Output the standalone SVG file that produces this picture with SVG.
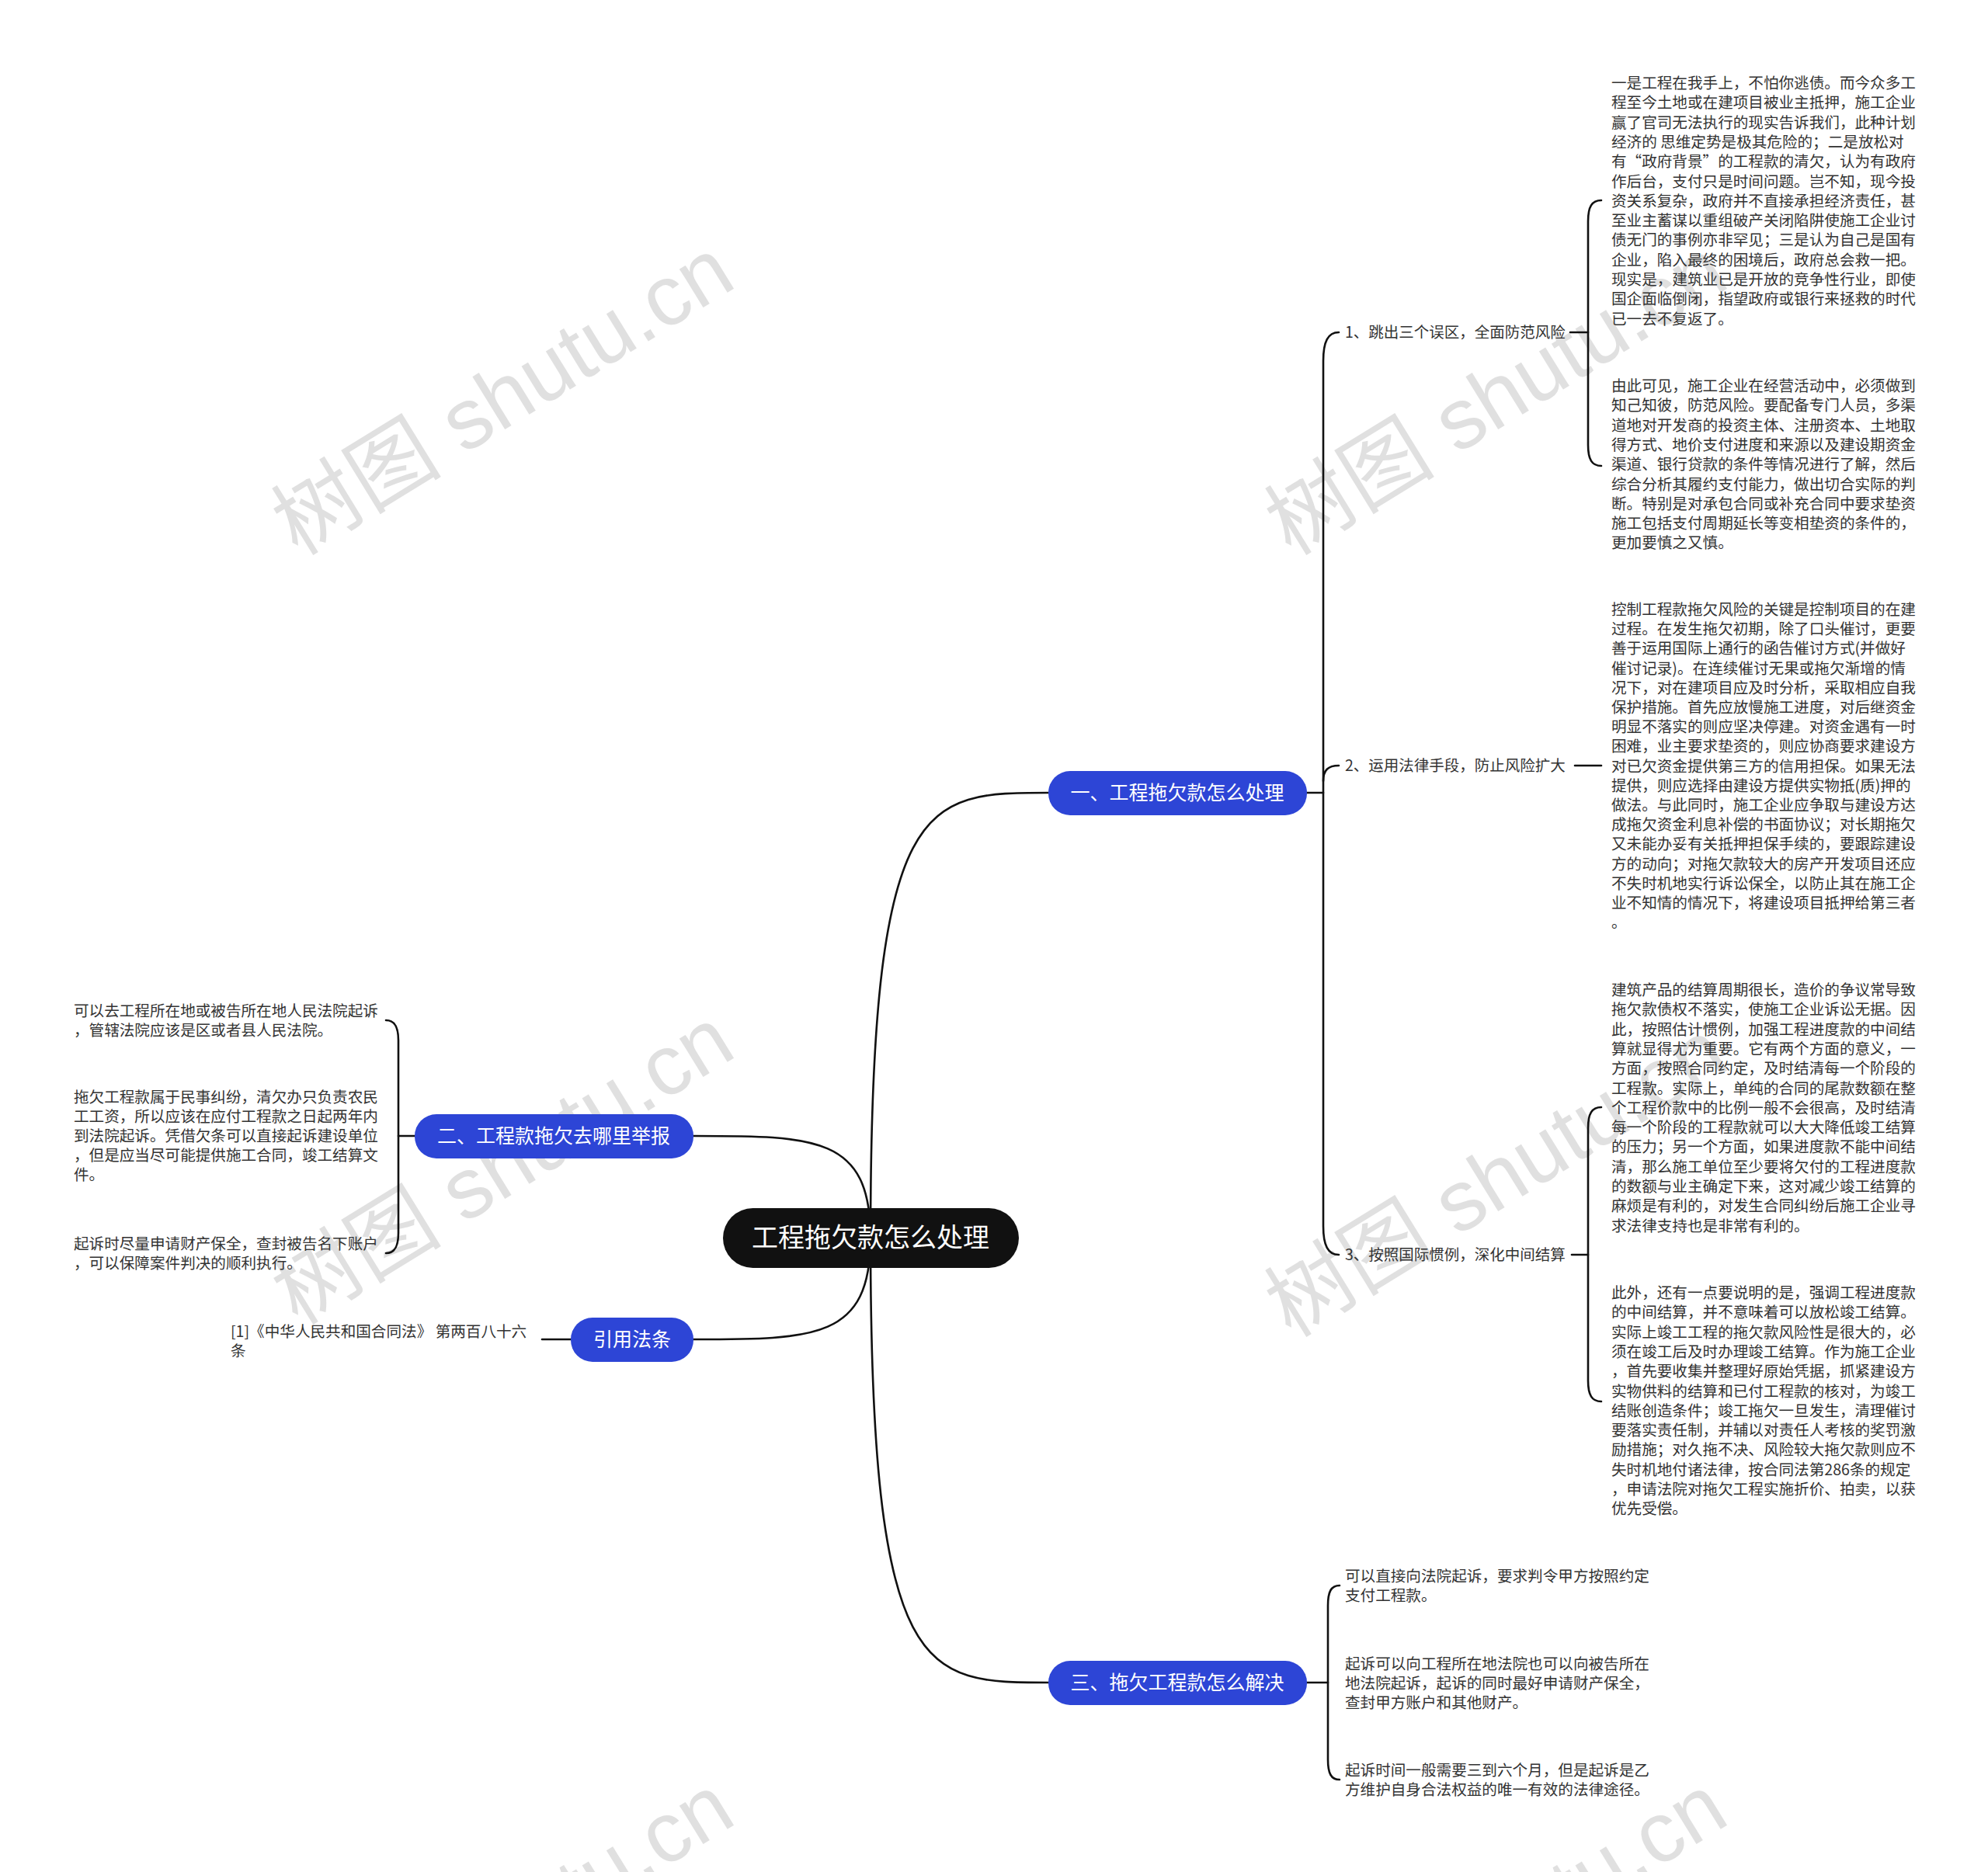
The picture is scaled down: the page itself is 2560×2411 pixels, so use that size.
<svg xmlns="http://www.w3.org/2000/svg" width="2560" height="2411" viewBox="0 0 2560 2411">
<style>
.wm{font-family:"Liberation Sans","Noto Sans CJK SC",sans-serif;font-size:110px;fill:#c8c8c8;opacity:0.55}
.t{font-family:"Noto Sans CJK SC",sans-serif;font-size:19.6px;fill:#333333}
.lb{font-family:"Noto Sans CJK SC",sans-serif;font-size:19.5px;fill:#333333}
.n1{fill:#2d45d6}
.n1t{font-family:"Noto Sans CJK SC",sans-serif;font-size:25px;fill:#ffffff;text-anchor:middle}
.rt{font-family:"Noto Sans CJK SC",sans-serif;font-size:34px;fill:#ffffff;text-anchor:middle}
.c{fill:none;stroke:#111111;stroke-width:2.6;stroke-linecap:round}
</style>
<rect width="2560" height="2411" fill="#ffffff"/>
<g id="watermarks">
<text class="wm" x="648" y="548" text-anchor="middle" transform="rotate(-31.6 648 511)">树图 shutu.cn</text>
<text class="wm" x="1927" y="548" text-anchor="middle" transform="rotate(-31.6 1927 511)">树图 shutu.cn</text>
<text class="wm" x="648" y="1539" text-anchor="middle" transform="rotate(-31.6 648 1502)">树图 shutu.cn</text>
<text class="wm" x="1927" y="1555" text-anchor="middle" transform="rotate(-31.6 1927 1518)">树图 shutu.cn</text>
<text class="wm" x="648" y="2527" text-anchor="middle" transform="rotate(-31.6 648 2490)">树图 shutu.cn</text>
<text class="wm" x="1927" y="2527" text-anchor="middle" transform="rotate(-31.6 1927 2490)">树图 shutu.cn</text>
</g>
<g id="connectors">
<path class="c" d="M1121,1594 C1121,1021 1190,1021 1350,1021"/>
<path class="c" d="M1121,1594 C1121,1463 1050,1463 893,1463"/>
<path class="c" d="M1121,1594 C1121,1725 1050,1725 893,1725"/>
<path class="c" d="M1121,1594 C1121,2167 1190,2167 1350,2167"/>
<path class="c" d="M1683,1021 H1704"/>
<path class="c" d="M1724,428 C1710,428 1704,440 1704,465 V1579 C1704,1604 1710,1616 1724,1616"/>
<path class="c" d="M1704,1006 C1704,992 1710,986 1724,986"/>
<path class="c" d="M2022,428 H2045"/>
<path class="c" d="M2062,258 C2050,258 2045,266 2045,285 V573 C2045,592 2050,600 2062,600"/>
<path class="c" d="M2028,986 H2062"/>
<path class="c" d="M2024,1616 H2045"/>
<path class="c" d="M2062,1426 C2050,1426 2045,1434 2045,1453 V1778 C2045,1797 2050,1805 2062,1805"/>
<path class="c" d="M1683,2167 H1710"/>
<path class="c" d="M1725,2042 C1714,2042 1710,2050 1710,2068 V2266 C1710,2284 1714,2292 1725,2292"/>
<path class="c" d="M534,1463 H513"/>
<path class="c" d="M497,1314 C508,1314 513,1322 513,1340 V1588 C513,1606 508,1614 497,1614"/>
<path class="c" d="M735,1725 H698"/>
</g>
<g id="root">
<rect x="931" y="1556" width="381" height="77" rx="38.5" fill="#111111"/>
<text class="rt" x="1121" y="1606">工程拖欠款怎么处理</text>
</g>
<g id="n1">
<rect class="n1" x="1350" y="993" width="333" height="57" rx="28"/>
<text class="n1t" x="1516" y="1030">一、工程拖欠款怎么处理</text>
</g>
<g id="n2">
<rect class="n1" x="534" y="1435" width="359" height="57" rx="28"/>
<text class="n1t" x="713" y="1472">二、工程款拖欠去哪里举报</text>
</g>
<g id="n3">
<rect class="n1" x="735" y="1697" width="158" height="57" rx="28"/>
<text class="n1t" x="814" y="1734">引用法条</text>
</g>
<g id="n4">
<rect class="n1" x="1350" y="2139" width="333" height="57" rx="28"/>
<text class="n1t" x="1516" y="2176">三、拖欠工程款怎么解决</text>
</g>
<g id="l1"><text class="lb" x="1732" y="435">1、跳出三个误区，全面防范风险</text></g>
<g id="l2"><text class="lb" x="1732" y="993">2、运用法律手段，防止风险扩大</text></g>
<g id="l3"><text class="lb" x="1732" y="1623">3、按照国际惯例，深化中间结算</text></g>
<g id="b1">
<text class="t">
<tspan x="2075" y="114">一是工程在我手上，不怕你逃债。而今众多工</tspan>
<tspan x="2075" y="139.3">程至今土地或在建项目被业主抵押，施工企业</tspan>
<tspan x="2075" y="164.6">赢了官司无法执行的现实告诉我们，此种计划</tspan>
<tspan x="2075" y="189.9">经济的 思维定势是极其危险的；二是放松对</tspan>
<tspan x="2075" y="215.2">有“政府背景”的工程款的清欠，认为有政府</tspan>
<tspan x="2075" y="240.5">作后台，支付只是时间问题。岂不知，现今投</tspan>
<tspan x="2075" y="265.8">资关系复杂，政府并不直接承担经济责任，甚</tspan>
<tspan x="2075" y="291.1">至业主蓄谋以重组破产关闭陷阱使施工企业讨</tspan>
<tspan x="2075" y="316.4">债无门的事例亦非罕见；三是认为自己是国有</tspan>
<tspan x="2075" y="341.7">企业，陷入最终的困境后，政府总会救一把。</tspan>
<tspan x="2075" y="367">现实是，建筑业已是开放的竞争性行业，即使</tspan>
<tspan x="2075" y="392.3">国企面临倒闭，指望政府或银行来拯救的时代</tspan>
<tspan x="2075" y="417.6">已一去不复返了。</tspan>
</text>
</g>
<g id="b2">
<text class="t">
<tspan x="2075" y="504">由此可见，施工企业在经营活动中，必须做到</tspan>
<tspan x="2075" y="529.3">知己知彼，防范风险。要配备专门人员，多渠</tspan>
<tspan x="2075" y="554.6">道地对开发商的投资主体、注册资本、土地取</tspan>
<tspan x="2075" y="579.9">得方式、地价支付进度和来源以及建设期资金</tspan>
<tspan x="2075" y="605.2">渠道、银行贷款的条件等情况进行了解，然后</tspan>
<tspan x="2075" y="630.5">综合分析其履约支付能力，做出切合实际的判</tspan>
<tspan x="2075" y="655.8">断。特别是对承包合同或补充合同中要求垫资</tspan>
<tspan x="2075" y="681.1">施工包括支付周期延长等变相垫资的条件的，</tspan>
<tspan x="2075" y="706.4">更加要慎之又慎。</tspan>
</text>
</g>
<g id="b3">
<text class="t">
<tspan x="2075" y="792">控制工程款拖欠风险的关键是控制项目的在建</tspan>
<tspan x="2075" y="817.2">过程。在发生拖欠初期，除了口头催讨，更要</tspan>
<tspan x="2075" y="842.4">善于运用国际上通行的函告催讨方式(并做好</tspan>
<tspan x="2075" y="867.6">催讨记录)。在连续催讨无果或拖欠渐增的情</tspan>
<tspan x="2075" y="892.8">况下，对在建项目应及时分析，采取相应自我</tspan>
<tspan x="2075" y="918">保护措施。首先应放慢施工进度，对后继资金</tspan>
<tspan x="2075" y="943.2">明显不落实的则应坚决停建。对资金遇有一时</tspan>
<tspan x="2075" y="968.4">困难，业主要求垫资的，则应协商要求建设方</tspan>
<tspan x="2075" y="993.6">对已欠资金提供第三方的信用担保。如果无法</tspan>
<tspan x="2075" y="1018.8">提供，则应选择由建设方提供实物抵(质)押的</tspan>
<tspan x="2075" y="1044">做法。与此同时，施工企业应争取与建设方达</tspan>
<tspan x="2075" y="1069.2">成拖欠资金利息补偿的书面协议；对长期拖欠</tspan>
<tspan x="2075" y="1094.4">又未能办妥有关抵押担保手续的，要跟踪建设</tspan>
<tspan x="2075" y="1119.6">方的动向；对拖欠款较大的房产开发项目还应</tspan>
<tspan x="2075" y="1144.8">不失时机地实行诉讼保全，以防止其在施工企</tspan>
<tspan x="2075" y="1170">业不知情的情况下，将建设项目抵押给第三者</tspan>
<tspan x="2075" y="1195.2">。</tspan>
</text>
</g>
<g id="b4">
<text class="t">
<tspan x="2075" y="1282">建筑产品的结算周期很长，造价的争议常导致</tspan>
<tspan x="2075" y="1307.3">拖欠款债权不落实，使施工企业诉讼无据。因</tspan>
<tspan x="2075" y="1332.6">此，按照估计惯例，加强工程进度款的中间结</tspan>
<tspan x="2075" y="1357.9">算就显得尤为重要。它有两个方面的意义，一</tspan>
<tspan x="2075" y="1383.2">方面，按照合同约定，及时结清每一个阶段的</tspan>
<tspan x="2075" y="1408.5">工程款。实际上，单纯的合同的尾款数额在整</tspan>
<tspan x="2075" y="1433.8">个工程价款中的比例一般不会很高，及时结清</tspan>
<tspan x="2075" y="1459.1">每一个阶段的工程款就可以大大降低竣工结算</tspan>
<tspan x="2075" y="1484.4">的压力；另一个方面，如果进度款不能中间结</tspan>
<tspan x="2075" y="1509.7">清，那么施工单位至少要将欠付的工程进度款</tspan>
<tspan x="2075" y="1535">的数额与业主确定下来，这对减少竣工结算的</tspan>
<tspan x="2075" y="1560.3">麻烦是有利的，对发生合同纠纷后施工企业寻</tspan>
<tspan x="2075" y="1585.6">求法律支持也是非常有利的。</tspan>
</text>
</g>
<g id="b5">
<text class="t">
<tspan x="2075" y="1672">此外，还有一点要说明的是，强调工程进度款</tspan>
<tspan x="2075" y="1697.3">的中间结算，并不意味着可以放松竣工结算。</tspan>
<tspan x="2075" y="1722.6">实际上竣工工程的拖欠款风险性是很大的，必</tspan>
<tspan x="2075" y="1747.9">须在竣工后及时办理竣工结算。作为施工企业</tspan>
<tspan x="2075" y="1773.2">，首先要收集并整理好原始凭据，抓紧建设方</tspan>
<tspan x="2075" y="1798.5">实物供料的结算和已付工程款的核对，为竣工</tspan>
<tspan x="2075" y="1823.8">结账创造条件；竣工拖欠一旦发生，清理催讨</tspan>
<tspan x="2075" y="1849.1">要落实责任制，并辅以对责任人考核的奖罚激</tspan>
<tspan x="2075" y="1874.4">励措施；对久拖不决、风险较大拖欠款则应不</tspan>
<tspan x="2075" y="1899.7">失时机地付诸法律，按合同法第286条的规定</tspan>
<tspan x="2075" y="1925">，申请法院对拖欠工程实施折价、拍卖，以获</tspan>
<tspan x="2075" y="1950.3">优先受偿。</tspan>
</text>
</g>
<g id="b6">
<text class="t"><tspan x="1732" y="2037">可以直接向法院起诉，要求判令甲方按照约定</tspan><tspan x="1732" y="2062">支付工程款。</tspan></text>
</g>
<g id="b7">
<text class="t"><tspan x="1732" y="2150">起诉可以向工程所在地法院也可以向被告所在</tspan><tspan x="1732" y="2175">地法院起诉，起诉的同时最好申请财产保全，</tspan><tspan x="1732" y="2200">查封甲方账户和其他财产。</tspan></text>
</g>
<g id="b8">
<text class="t"><tspan x="1732" y="2287">起诉时间一般需要三到六个月，但是起诉是乙</tspan><tspan x="1732" y="2312">方维护自身合法权益的唯一有效的法律途径。</tspan></text>
</g>
<g id="b9">
<text class="t"><tspan x="95" y="1309">可以去工程所在地或被告所在地人民法院起诉</tspan><tspan x="95" y="1334">，管辖法院应该是区或者县人民法院。</tspan></text>
</g>
<g id="b10">
<text class="t"><tspan x="95" y="1420">拖欠工程款属于民事纠纷，清欠办只负责农民</tspan><tspan x="95" y="1445">工工资，所以应该在应付工程款之日起两年内</tspan><tspan x="95" y="1470">到法院起诉。凭借欠条可以直接起诉建设单位</tspan><tspan x="95" y="1495">，但是应当尽可能提供施工合同，竣工结算文</tspan><tspan x="95" y="1520">件。</tspan></text>
</g>
<g id="b11">
<text class="t"><tspan x="95" y="1609">起诉时尽量申请财产保全，查封被告名下账户</tspan><tspan x="95" y="1634">，可以保障案件判决的顺利执行。</tspan></text>
</g>
<g id="b12">
<text class="t"><tspan x="297" y="1722">[1]《中华人民共和国合同法》 第两百八十六</tspan><tspan x="297" y="1747">条</tspan></text>
</g>
</svg>
